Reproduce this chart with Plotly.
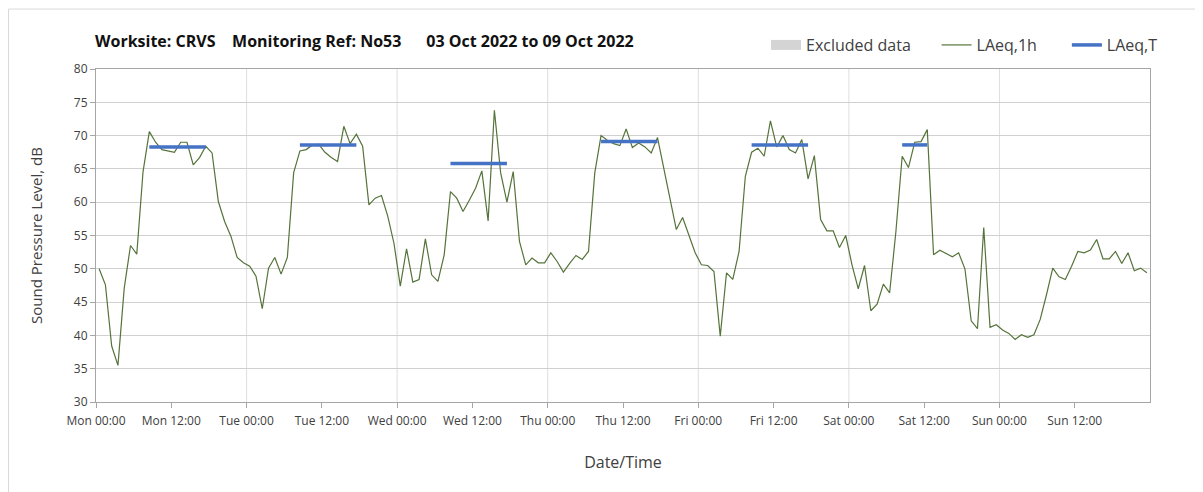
import pandas as pd
import plotly.graph_objects as go

# hourly LAeq values, Mon 03 Oct 2022 00:00 -> Sun 09 Oct 2022 23:00
laeq_1h = [
    50.0, 47.6, 38.4, 35.5, 47.1, 53.5, 52.2, 64.6, 70.6, 69.0, 67.9, 67.7, 67.5, 69.0,
    69.0, 65.6, 66.7, 68.4, 67.4, 60.1, 57.1, 54.9, 51.7, 50.9, 50.4, 48.9, 44.0, 50.1,
    51.7, 49.2, 51.7, 64.4, 67.7, 67.9, 68.6, 68.7, 67.5, 66.7, 66.1, 71.4, 68.8, 70.2,
    68.4, 59.6, 60.6, 61.0, 57.9, 53.8, 47.4, 53.0, 48.0, 48.4, 54.5, 49.1, 48.1,
    52.1, 61.6, 60.6, 58.6, 60.3, 62.1, 64.7, 57.2, 73.8, 64.4, 60.0, 64.6, 54.1, 50.6,
    51.6, 50.9, 50.9, 52.4, 51.1, 49.5, 50.8, 52.0, 51.4, 52.6, 64.4, 70.0, 69.3,
    68.8, 68.5, 71.0, 68.2, 68.9, 68.3, 67.4, 69.7, 65.1, 60.6, 55.9, 57.7, 54.9, 52.4,
    50.6, 50.5, 49.6, 39.9, 49.4, 48.4, 52.6, 63.9, 67.5, 68.1, 66.9, 72.2, 68.3,
    70.0, 67.9, 67.4, 69.4, 63.5, 67.0, 57.4, 55.7, 55.7, 53.2, 55.0, 50.6, 47.0, 50.5,
    43.7, 44.7, 47.7, 46.4, 55.6, 66.9, 65.2, 69.0, 69.1, 70.9, 52.1, 52.8, 52.3,
    51.8, 52.4, 50.0, 42.2, 41.0, 56.2, 41.2, 41.6, 40.8, 40.3, 39.4, 40.1, 39.7, 40.1,
    42.4, 46.1, 50.1, 48.8, 48.4, 50.4, 52.6, 52.4, 52.8, 54.4, 51.5, 51.5, 52.6, 50.8,
    52.4, 49.7, 50.1, 49.4,
]

# period LAeq,T: first and last hour index of each period
period_start = [8, 32, 56, 80, 104, 128]
period_end = [17, 41, 65, 89, 113, 132]
laeq_t = [68.3, 68.6, 65.8, 69.1, 68.6, 68.6]

FMT = "%Y-%m-%d %H:%M:%S"
t0 = pd.Timestamp("2022-10-03 00:00")
times = [d.strftime(FMT) for d in
         pd.date_range(t0 + pd.Timedelta(minutes=30), periods=len(laeq_1h), freq="h")]
ticks = pd.date_range(t0, periods=14, freq="12h")
tick_vals = [d.strftime(FMT) for d in ticks]
tick_text = [d.strftime("%a %H:%M") for d in ticks]
days = [d.strftime(FMT) for d in pd.date_range(t0, periods=8, freq="D")]

tx, ty = [], []
for s, e, v in zip(period_start, period_end, laeq_t):
    tx += [times[s], times[e], None]
    ty += [v, v, None]

sp = "\u00a0"
fig = go.Figure()
fig.add_trace(go.Scatter(x=[None], y=[None], mode="lines", name="Excluded data" + sp * 5,
                         line=dict(color="#d4d4d4", width=10)))
fig.add_trace(go.Scatter(x=times, y=laeq_1h, mode="lines", name="LAeq,1h" + sp * 6,
                         line=dict(color="#55733a", width=1.2)))
fig.add_trace(go.Scatter(x=tx, y=ty, mode="lines", name="LAeq,T",
                         line=dict(color="#4472c4", width=3.5)))

# vertical day gridlines
shapes = [dict(type="line", xref="x", yref="paper", x0=d, x1=d, y0=0, y1=1,
               line=dict(color="#dedede", width=1), layer="below") for d in days[1:-1]]
shapes.append(dict(type="rect", xref="paper", yref="paper",
                   x0=-0.083, x1=1.06, y0=-0.3, y1=1.18,
                   line=dict(color="#d9d9d9", width=1), layer="below"))

axis_font = dict(family="Open Sans", size=12, color="#404040")
fig.update_layout(
    width=1195, height=484,
    margin=dict(l=88, r=53, t=61, b=90),
    paper_bgcolor="white", plot_bgcolor="white",
    font=dict(family="Open Sans", color="#404040"),
    title=dict(text="Worksite: CRVS" + sp * 3 + " Monitoring Ref: No53" + sp * 5 + " 03 Oct 2022 to 09 Oct 2022",
               x=87 / 1195, xanchor="left", y=1 - 33 / 484, yanchor="middle",
               font=dict(family="Open Sans", size=16, color="#111111", weight="bold")),
    legend=dict(orientation="h", x=0.6357, xanchor="left", y=1.072, yanchor="middle",
                font=dict(size=16, color="#404040"), itemwidth=30,
                bgcolor="rgba(0,0,0,0)"),
    shapes=shapes,
)
fig.update_xaxes(
    type="date", range=[days[0], days[-1]],
    tickvals=tick_vals, ticktext=tick_text, tickfont=axis_font,
    ticks="outside", ticklen=5, tickcolor="#a6a6a6", ticklabelstandoff=3,
    showgrid=False, showline=True, linecolor="#a6a6a6", mirror=True,
    title=dict(text="Date/Time", font=dict(size=16, color="#404040"), standoff=28),
    zeroline=False,
)
fig.update_yaxes(
    range=[30, 80], dtick=5, tickfont=axis_font,
    ticks="outside", ticklen=5, tickcolor="#a6a6a6",
    showgrid=True, gridcolor="#d0d0d0", showline=True, linecolor="#a6a6a6", mirror=True,
    title=dict(text="Sound Pressure Level, dB", font=dict(size=15, color="#404040"), standoff=27),
    zeroline=False,
)

fig.write_html("out.html")
